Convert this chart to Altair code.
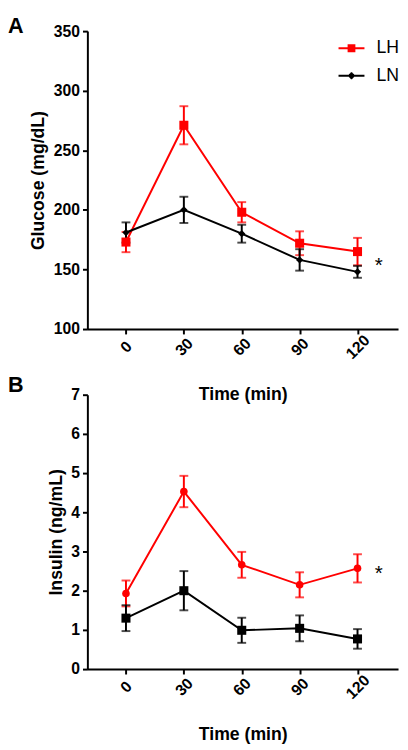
import altair as alt
import pandas as pd

# ---- data ----
time = [0, 30, 60, 90, 120]
series = ["LH", "LN"]
colors = ["#ff0000", "#000000"]

glucose_lh = [173, 271, 198, 172, 165]
glucose_lh_sem = [8.5, 16, 8.5, 10, 11.5]
glucose_ln = [181, 200, 180, 158, 148]
glucose_ln_sem = [8.5, 11, 7.5, 9, 5]

insulin_lh = [1.93, 4.53, 2.66, 2.15, 2.57]
insulin_lh_sem = [0.33, 0.40, 0.33, 0.32, 0.36]
insulin_ln = [1.30, 2.00, 0.99, 1.04, 0.77]
insulin_ln_sem = [0.33, 0.50, 0.32, 0.33, 0.25]

star_time = 131
star_glucose = 157
star_insulin = 2.55

FONT = "Liberation Sans"


def frame(lh, lh_sem, ln, ln_sem):
    rows = []
    for name, m, s in (("LH", lh, lh_sem), ("LN", ln, ln_sem)):
        for t, mv, sv in zip(time, m, s):
            rows.append({"time": t, "series": name, "mean": mv,
                         "lo": mv - sv, "hi": mv + sv})
    return pd.DataFrame(rows)


dfA = frame(glucose_lh, glucose_lh_sem, glucose_ln, glucose_ln_sem)
dfB = frame(insulin_lh, insulin_lh_sem, insulin_ln, insulin_ln_sem)

x_enc = alt.X("time:Q", title="Time (min)",
              scale=alt.Scale(domain=[-20, 141], nice=False, zero=False),
              axis=alt.Axis(values=time, labelAngle=-45, labelAlign="center",
                            labelBaseline="middle", labelPadding=13,
                            titlePadding=25))

# legend symbols: a short line with the series marker drawn from strokes
LEGEND_PATHS = [
    "M-1,0H1M-0.3,-0.24H0.3M-0.3,-0.12H0.3M-0.3,0.12H0.3M-0.3,0.24H0.3",
    "M-1,0H1M-0.05,-0.2H0.05M-0.1,-0.15H0.1M-0.15,-0.1H0.15M-0.2,-0.05H0.2"
    "M-0.2,0.05H0.2M-0.15,0.1H0.15M-0.1,0.15H0.1M-0.05,0.2H0.05",
]


def panel(df, ydomain, ystep, ytitle, shapes, sizes, star_y, letter,
          letter_offset, height, with_legend):
    yvals = list(range(ydomain[0], ydomain[1] + 1, ystep))
    yscale = alt.Scale(domain=ydomain, nice=False, zero=False)
    yaxis = alt.Axis(values=yvals, titlePadding=6)
    base = alt.Chart(df)

    def y_of(field):
        return alt.Y(field, scale=yscale, axis=yaxis, title=ytitle)

    layers = []
    if with_legend:
        leg = alt.Legend(title=None, orient="none", legendX=255, legendY=3,
                         symbolSize=700, symbolStrokeWidth=2, symbolOpacity=1,
                         labelFontSize=18, labelFont=FONT, labelColor="black",
                         labelOffset=11, rowPadding=4, padding=0)
        layers.append(
            base.mark_point(filled=False, size=1, strokeWidth=2, opacity=1).encode(
                x=x_enc,
                y=y_of("mean:Q"),
                color=alt.Color("series:N",
                                scale=alt.Scale(domain=series, range=colors),
                                legend=leg),
                shape=alt.Shape("series:N",
                                scale=alt.Scale(domain=series, range=LEGEND_PATHS),
                                legend=leg),
            )
        )
    for name, c in zip(series, colors):
        sub = base.transform_filter(alt.datum.series == name)
        layers.append(
            sub.mark_errorbar(color=c, thickness=2,
                              ticks={"size": 9, "thickness": 2, "color": c})
            .encode(x=x_enc, y=y_of("lo:Q"), y2="hi:Q")
        )
    for name, c in zip(series, colors):
        sub = base.transform_filter(alt.datum.series == name)
        layers.append(
            sub.mark_line(color=c, strokeWidth=2).encode(x=x_enc, y=y_of("mean:Q"))
        )
    for name, c, shp, sz in zip(series, colors, shapes, sizes):
        sub = base.transform_filter(alt.datum.series == name)
        layers.append(
            sub.mark_point(shape=shp, filled=True, size=sz, opacity=1, color=c)
            .encode(x=x_enc, y=y_of("mean:Q"))
        )
    star_df = pd.DataFrame({"time": [star_time], "v": [star_y]})
    layers.append(
        alt.Chart(star_df).mark_text(text="*", fontSize=21, font=FONT,
                                     color="black", baseline="alphabetic",
                                     dy=11).encode(x=x_enc, y=y_of("v:Q"))
    )
    return alt.layer(*layers).properties(
        width=317, height=height,
        title=alt.TitleParams(text=letter, anchor="start", frame="group",
                              orient="top", fontSize=22, fontWeight="bold",
                              font=FONT, color="black", dx=-81,
                              offset=letter_offset, baseline="alphabetic"),
    )


chartA = panel(dfA, [100, 350], 50, "Glucose (mg/dL)", ["square", "diamond"],
               [85, 55], star_glucose, "A", -32, 304, True)
chartB = panel(dfB, [0, 7], 1, "Insulin (ng/mL)", ["circle", "square"],
               [60, 85], star_insulin, "B", -27, 280, False)

chart = alt.vconcat(chartA, chartB, spacing=67, bounds="flush").resolve_legend(
    color="independent", shape="independent",
).properties(
    padding={"left": 0, "top": 0, "right": 0, "bottom": 0}
).configure_view(stroke=None).configure_axis(
    grid=False, domainColor="black", domainWidth=2, tickColor="black",
    tickWidth=2, tickSize=5, labelFont=FONT, labelFontSize=16,
    labelFontWeight="bold", labelColor="black", labelPadding=3,
    titleFont=FONT, titleFontSize=18, titleFontWeight="bold",
    titleColor="black",
)

chart.save("out.html", embed_options={"renderer": "svg", "actions": False})
